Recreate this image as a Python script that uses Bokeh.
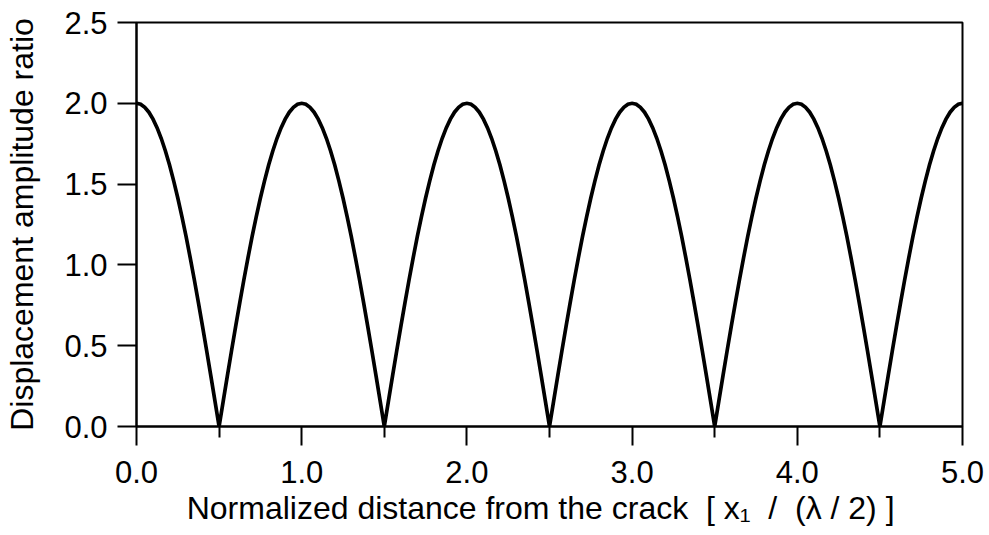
import numpy as np
from bokeh.plotting import figure
from bokeh.models import Range1d, FixedTicker, PrintfTickFormatter
from bokeh.embed import file_html
from bokeh.resources import INLINE

# Displacement amplitude ratio vs. normalized distance, sampled every 0.025
x_step = 0.025
amplitude = [
    # 0.0 - 1.0
    2.000, 1.994, 1.975, 1.945, 1.902, 1.848, 1.782, 1.705, 1.618, 1.520,
    1.414, 1.299, 1.176, 1.045, 0.908, 0.765, 0.618, 0.467, 0.313, 0.157,
    0.000, 0.157, 0.313, 0.467, 0.618, 0.765, 0.908, 1.045, 1.176, 1.299,
    1.414, 1.520, 1.618, 1.705, 1.782, 1.848, 1.902, 1.945, 1.975, 1.994,
    # 1.0 - 2.0
    2.000, 1.994, 1.975, 1.945, 1.902, 1.848, 1.782, 1.705, 1.618, 1.520,
    1.414, 1.299, 1.176, 1.045, 0.908, 0.765, 0.618, 0.467, 0.313, 0.157,
    0.000, 0.157, 0.313, 0.467, 0.618, 0.765, 0.908, 1.045, 1.176, 1.299,
    1.414, 1.520, 1.618, 1.705, 1.782, 1.848, 1.902, 1.945, 1.975, 1.994,
    # 2.0 - 3.0
    2.000, 1.994, 1.975, 1.945, 1.902, 1.848, 1.782, 1.705, 1.618, 1.520,
    1.414, 1.299, 1.176, 1.045, 0.908, 0.765, 0.618, 0.467, 0.313, 0.157,
    0.000, 0.157, 0.313, 0.467, 0.618, 0.765, 0.908, 1.045, 1.176, 1.299,
    1.414, 1.520, 1.618, 1.705, 1.782, 1.848, 1.902, 1.945, 1.975, 1.994,
    # 3.0 - 4.0
    2.000, 1.994, 1.975, 1.945, 1.902, 1.848, 1.782, 1.705, 1.618, 1.520,
    1.414, 1.299, 1.176, 1.045, 0.908, 0.765, 0.618, 0.467, 0.313, 0.157,
    0.000, 0.157, 0.313, 0.467, 0.618, 0.765, 0.908, 1.045, 1.176, 1.299,
    1.414, 1.520, 1.618, 1.705, 1.782, 1.848, 1.902, 1.945, 1.975, 1.994,
    # 4.0 - 5.0
    2.000, 1.994, 1.975, 1.945, 1.902, 1.848, 1.782, 1.705, 1.618, 1.520,
    1.414, 1.299, 1.176, 1.045, 0.908, 0.765, 0.618, 0.467, 0.313, 0.157,
    0.000, 0.157, 0.313, 0.467, 0.618, 0.765, 0.908, 1.045, 1.176, 1.299,
    1.414, 1.520, 1.618, 1.705, 1.782, 1.848, 1.902, 1.945, 1.975, 1.994,
    2.000,
]
distance = np.round(np.arange(len(amplitude)) * x_step, 4)

x_major = [0, 1, 2, 3, 4, 5]
x_minor = [0.5, 1.5, 2.5, 3.5, 4.5]
y_major = [0.0, 0.5, 1.0, 1.5, 2.0, 2.5]

# non-breaking spaces keep the wide gaps inside the x title
NB = "\u00a0"
x_title = ("Normalized distance from the crack" + NB * 2 + "[ x\u2081" + NB * 2
           + "/" + NB * 2 + "(\u03bb / 2) ]" + NB * 2)
y_title = "Displacement amplitude ratio"

FONT = "Liberation Sans"
FS_TICK = "31px"
FS_TITLE = "32px"

p = figure(
    width=989, height=535,
    x_range=Range1d(0, 5), y_range=Range1d(0, 2.5),
    output_backend="svg", toolbar_location=None,
    min_border_left=136, min_border_right=27,
    min_border_top=22, min_border_bottom=109,
)
p.background_fill_color = "white"
p.border_fill_color = "white"
p.grid.visible = False
p.outline_line_color = "black"
p.outline_line_width = 2
p.outline_line_alpha = 1.0

p.line(distance, amplitude, line_color="black", line_width=3.7, line_join="miter")

for ax in (p.xaxis[0], p.yaxis[0]):
    ax.axis_line_color = "black"
    ax.axis_line_width = 2
    ax.major_tick_line_color = "black"
    ax.major_tick_line_width = 2
    ax.major_tick_in = 0
    ax.major_tick_out = 19
    ax.minor_tick_line_color = "black"
    ax.minor_tick_line_width = 2
    ax.minor_tick_in = 0
    ax.minor_tick_out = 11
    ax.major_label_text_font = FONT
    ax.major_label_text_font_size = FS_TICK
    ax.major_label_text_color = "black"
    ax.formatter = PrintfTickFormatter(format="%.1f")
    ax.axis_label_text_font = FONT
    ax.axis_label_text_font_size = FS_TITLE
    ax.axis_label_text_font_style = "normal"
    ax.axis_label_text_color = "black"

p.xaxis.ticker = FixedTicker(ticks=x_major, minor_ticks=x_minor)
p.yaxis.ticker = FixedTicker(ticks=y_major, minor_ticks=[])
p.xaxis.major_label_standoff = 15
p.yaxis.major_label_standoff = 10

p.yaxis.axis_label = y_title
p.yaxis.axis_label_standoff = 21
p.xaxis.axis_label = x_title
p.xaxis.axis_label_standoff = 4

open("out.html", "w").write(file_html(p, INLINE))
